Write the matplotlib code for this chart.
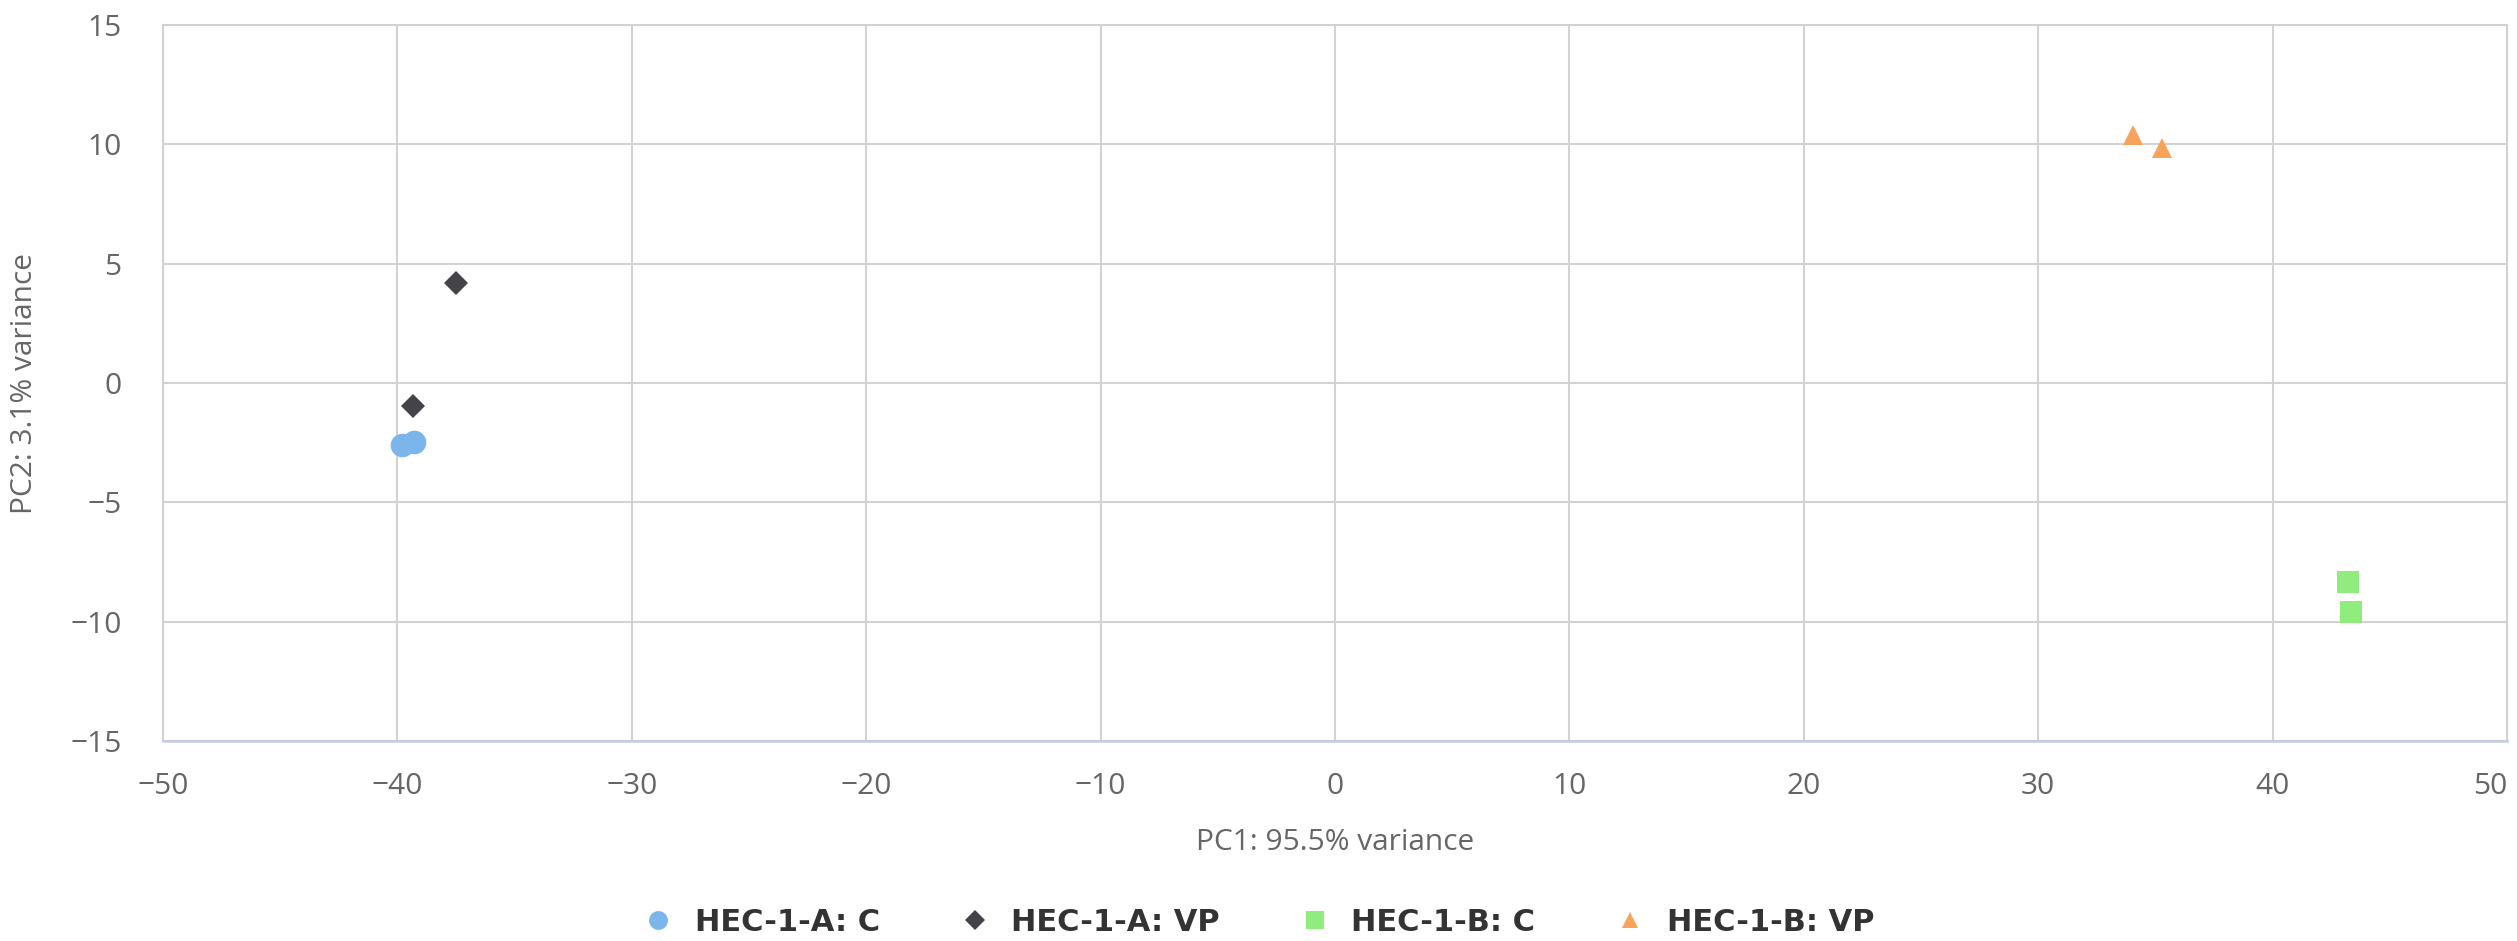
import matplotlib
matplotlib.use("Agg")
import matplotlib.pyplot as plt

# PCA scores per sample group
groups = ["HEC-1-A: C", "HEC-1-A: VP", "HEC-1-B: C", "HEC-1-B: VP"]
pc1 = [
    [-39.8, -39.3],
    [-37.5, -39.35],
    [43.2, 43.35],
    [34.05, 35.3],
]
pc2 = [
    [-2.6, -2.45],
    [4.2, -0.95],
    [-8.35, -9.6],
    [10.4, 9.85],
]
xticks = list(range(-50, 51, 10))
yticks = list(range(-15, 16, 5))
colors = ["#7cb5ec", "#434348", "#90ed7d", "#f7a35c"]
markers = ["o", "D", "s", "^"]
sizes = [17, 12.5, 15.5, 15]

plt.rcParams["font.family"] = ["Open Sans", "DejaVu Sans"]

fig = plt.figure(figsize=(25.17, 9.41), dpi=100)
ax = fig.add_axes([0.0648, 0.2125, 0.9312, 0.7609])

for name, xs, ys, c, m, ms in zip(groups, pc1, pc2, colors, markers, sizes):
    ax.plot(xs, ys, linestyle="none", marker=m, markersize=ms, color=c,
            markeredgewidth=0, label=name, zorder=3)


def minus(v):
    return str(v).replace("-", "\u2212")


ax.set_xlim(-50, 50)
ax.set_ylim(-15, 15)
ax.set_xticks(xticks)
ax.set_yticks(yticks)
ax.set_xticklabels([minus(v) for v in xticks])
ax.set_yticklabels([minus(v) for v in yticks])
# keep the last x label inside the canvas
ax.get_xticklabels()[-1].set_horizontalalignment("right")

ax.grid(True, color="#d2d2d2", linewidth=1.5, zorder=0)
ax.set_axisbelow(True)
for side in ["top", "right", "left"]:
    ax.spines[side].set_color("#d2d2d2")
    ax.spines[side].set_linewidth(1.5)
ax.spines["bottom"].set_color("#c3cde0")
ax.spines["bottom"].set_linewidth(1.8)

ax.tick_params(length=0, labelsize=21.5, labelcolor="#666666")
ax.tick_params(axis="y", pad=30)
ax.tick_params(axis="x", pad=22)

ax.set_xlabel("PC1: 95.5% variance", fontsize=21.5, color="#666666")
ax.set_ylabel("PC2: 3.1% variance", fontsize=21.5, color="#666666")
ax.xaxis.set_label_coords(0.5, -0.122)
ax.yaxis.set_label_coords(-0.053, 0.5)

leg = fig.legend(loc="center", bbox_to_anchor=(0.5, 0.02), ncol=4,
                 frameon=False, markerscale=0.8, handlelength=1.0,
                 handletextpad=0.7, columnspacing=2.6,
                 prop={"family": "DejaVu Sans", "size": 22, "weight": "bold"},
                 labelcolor="#333333")

fig.savefig("out.png", dpi=100)
